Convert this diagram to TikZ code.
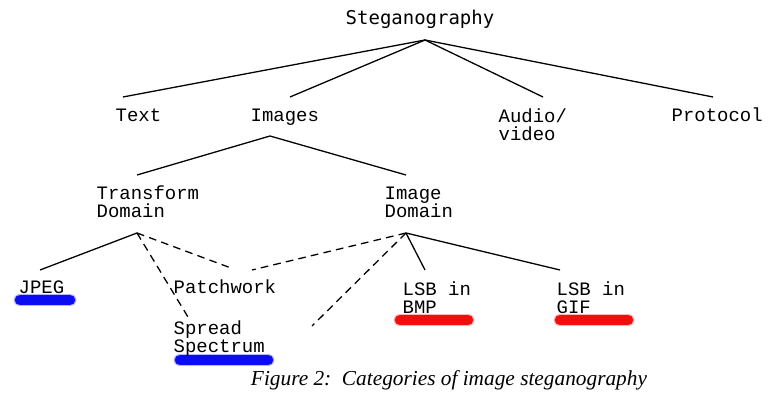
\documentclass[tikz,border=0pt]{standalone}
\usepackage{fontspec}
\setmonofont{Liberation Mono}
\newfontfamily\titlefont{DejaVu Sans Mono}
\newfontfamily\capfont{Liberation Serif}
\usetikzlibrary{backgrounds}
\definecolor{hlblue}{RGB}{12,12,242}
\definecolor{hlred}{RGB}{242,14,14}
\tikzset{
  every picture/.style={line width=1.1pt},
  lab/.style={font=\ttfamily\fontsize{16.2}{16.2}\selectfont, align=left, anchor=base west, inner sep=0pt},
  head/.style={font=\titlefont\fontsize{16.2}{16.2}\selectfont, anchor=base, inner sep=0pt},
  branch/.style={draw=black, line width=1.1pt},
  weak/.style={branch, dash pattern=on 6.5pt off 4.5pt},
  marker/.style={draw=#1, line width=9pt, line cap=round},
  halo/.style={draw=#1, line width=11pt, line cap=round, opacity=0.3},
}

\begin{document}
\begin{tikzpicture}[x=0.03cm, y=-0.03cm]
  \useasboundingbox (0,0) rectangle (770,400);
  % ---------- first level ----------
  \node[head] (steg) at (420,25) {Steganography};
  \coordinate (stegJ) at (425,40);
  \node[lab] (text) at (115,122) {Text};
  \node[lab] (images) at (250,122) {Images};
  \node[lab] (audio) at (498,141) {Audio/\\video};
  \node[lab] (proto) at (671,122) {Protocol};
  \coordinate (textT) at (123,97);
  \coordinate (imagesT) at (290,97);
  \coordinate (audioT) at (543,97);
  \coordinate (protoT) at (713,97);
  \foreach \c in {textT, imagesT, audioT, protoT} \draw[branch] (stegJ) -- (\c);
  % ---------- image domains ----------
  \coordinate (imagesJ) at (270,136);
  \node[lab] (trans) at (96,218) {Transform\\Domain};
  \node[lab] (spat) at (384,218) {Image\\Domain};
  \coordinate (transT) at (137,175);
  \coordinate (spatT) at (406,175);
  \draw[branch] (transT) -- (imagesJ) -- (spatT);
  % ---------- techniques ----------
  \coordinate (transJ) at (137,233);
  \coordinate (spatJ) at (406,233);
  \node[lab] (jpeg) at (18,294) {JPEG};
  \node[lab] (patch) at (173,294) {Patchwork};
  \node[lab] (spread) at (173,353) {Spread\\Spectrum};
  \node[lab] (bmp) at (402,314) {LSB in\\BMP};
  \node[lab] (gif) at (556,314) {LSB in\\GIF};
  \coordinate (jpegT) at (40,270);
  \coordinate (patchL) at (231,268);
  \coordinate (patchR) at (252,270);
  \coordinate (spreadT) at (188,317);
  \coordinate (spreadR) at (312,326);
  \coordinate (bmpT) at (425,270);
  \coordinate (gifT) at (560,270);
  \draw[branch] (transJ) -- (jpegT);
  \draw[weak] (transJ) -- (patchL);
  \draw[weak] (transJ) -- (spreadT);
  \draw[weak] (spatJ) -- (patchR);
  \draw[weak] (spatJ) -- (spreadR);
  \draw[branch] (spatJ) -- (bmpT);
  \draw[branch] (spatJ) -- (gifT);
  % ---------- highlights ----------
  \begin{scope}[on background layer]
    \foreach \a/\b/\y/\col in {20/70/300/hlblue, 180/268/360/hlblue, 400/468/320/hlred, 560/628/320/hlred} {
      \draw[halo=\col] (\a,\y) -- (\b,\y);
      \draw[marker=\col] (\a,\y) -- (\b,\y);
    }
  \end{scope}
  \node[font=\capfont\itshape\fontsize{18.2}{18.2}\selectfont, inner sep=0pt] (cap) at (449,380) {Figure 2:\ \ Categories of image steganography};
\end{tikzpicture}
\end{document}
